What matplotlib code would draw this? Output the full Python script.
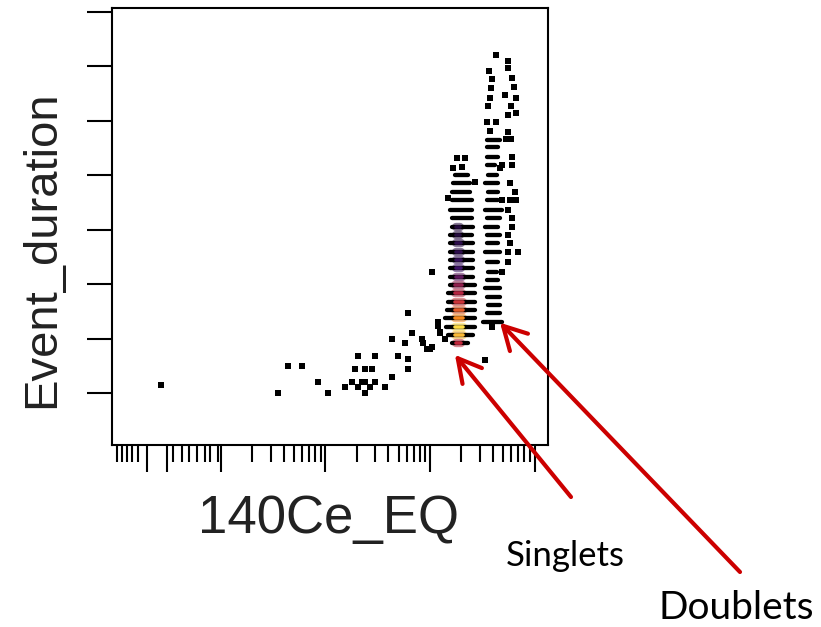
import matplotlib
matplotlib.use("Agg")
import matplotlib.pyplot as plt
from matplotlib.colors import LinearSegmentedColormap
import numpy as np

# scattered single events: 140Ce_EQ intensity, event duration
sparse_x = [-1.1, 35, 44, 60, 85, 106, 154, 179, 205, 224, 239, 267, 298, 239,
            371, 433, 205, 298, 192, 239, 279, 494, 616, 616, 433, 577, 673,
            616, 838, 857, 936, 1000, 1248, 1194, 1393, 1046, 1194, 1248, 1046,
            3360]
sparse_y = [11.5, 10.0, 15.0, 15.0, 12.0, 10.0, 11.1, 12.0, 11.1, 12.0, 12.0,
            11.1, 12.0, 10.0, 11.1, 12.9, 16.8, 16.8, 14.4, 14.4, 14.4, 16.8,
            16.2, 14.4, 19.9, 19.2, 21.0, 24.7, 19.9, 19.2, 18.1, 18.1, 21.0,
            22.3, 19.9, 32.2, 23.0, 21.2, 18.5, 16.1]

# loose events above / beside the singlet population
singlet_dots_x = [1811, 2162, 1660, 2024, 2695, 1486]
singlet_dots_y = [53.2, 53.2, 51.3, 51.5, 48.8, 45.8]

# singlet population: one band per event-duration step (left/right intensity)
singlet_y = [50.1, 48.6, 46.9, 45.5, 43.6, 42.2, 40.5, 39.0, 37.6, 35.9, 34.4,
             33.0, 31.3, 29.8, 28.4, 26.7, 25.2, 23.8, 22.1, 20.7, 19.2]
singlet_lo = [1734, 1660, 1624, 1624, 1554, 1624, 1624, 1554, 1554, 1554, 1554,
              1554, 1554, 1554, 1486, 1486, 1456, 1393, 1423, 1486, 1624]
singlet_hi = [2312, 2415, 2415, 2524, 2524, 2524, 2579, 2524, 2579, 2579, 2579,
              2579, 2579, 2695, 2695, 2695, 2695, 2695, 2695, 2579, 2312]

# event density in the core of the singlet bands (0 = sparse, 1 = densest)
core_y = [40.5, 39.0, 37.6, 35.9, 34.4, 33.0, 31.3, 29.8, 28.4, 26.7, 25.2,
          23.8, 22.1, 20.7, 19.2]
core_lo = [1790, 1790, 1780, 1780, 1780, 1770, 1760, 1750, 1750, 1740, 1740,
           1730, 1730, 1740, 1770]
core_hi = [1950, 1950, 1980, 1980, 1980, 2000, 2020, 2040, 2040, 2060, 2070,
           2080, 2080, 2070, 2000]
core_density = [0.18, 0.18, 0.22, 0.22, 0.25, 0.3, 0.36, 0.45, 0.52, 0.58,
                0.68, 0.8, 0.97, 0.9, 0.55]

# doublet population bands
doublet_y = [56.5, 55.2, 53.4, 51.9, 50.1, 48.6, 46.9, 45.5, 43.6, 42.2, 40.5,
             39.0, 37.6, 35.9, 34.1, 32.2, 30.8, 29.3, 27.6, 26.2, 24.7, 23.0]
doublet_lo = [3511, 3511, 3511, 3511, 3589, 3360, 3589, 3511, 3360, 3511, 3360,
              3511, 3511, 3360, 3511, 3589, 3511, 3360, 3511, 3589, 3511, 3216]
doublet_hi = [4677, 4475, 4475, 4190, 4378, 4475, 4475, 4475, 4889, 4677, 4475,
              4677, 4475, 4677, 4475, 4378, 4475, 4677, 4677, 4677, 4677, 4889]

# loose events around the doublet population
doublet_dots_x = [4285, 5580, 5580, 3670, 3920, 6090, 6362, 3835, 5224, 3751,
                  6646, 3589, 5958, 6646, 5580, 3511, 4285, 3751, 5580, 5338,
                  5958, 6090, 4889, 6090, 4677, 5830, 6503, 4889, 5830, 6646,
                  5580, 6090, 6090, 5580, 5830, 5580, 6943, 5580, 4889, 3920]
doublet_dots_y = [72.1, 71.0, 69.7, 69.2, 67.7, 67.9, 66.2, 66.0, 64.7, 64.2,
                  64.2, 62.7, 62.7, 61.5, 61.1, 59.8, 59.8, 58.1, 58.0, 56.7,
                  56.7, 53.4, 51.9, 51.9, 51.3, 48.6, 46.9, 45.5, 45.5, 45.5,
                  43.6, 42.2, 40.5, 39.0, 37.6, 35.9, 35.9, 34.1, 32.2, 22.1]

# axis ticks (unlabelled)
x_major = [-3.7, 0, 10, 100, 1000, 10000]
x_minor = [-9.3, -8.3, -7.4, -6.5, -5.4, 1.1, 2.8, 4.1, 5.6, 7.0, 8.0, 9.4,
           20, 30, 40, 50, 60, 70, 80, 90,
           200, 300, 400, 500, 600, 700, 800, 900,
           2000, 3000, 4000, 5000, 6000, 7000, 8000, 9000]
y_ticks = [10, 20, 30, 40, 50, 60, 70, 80]

heat = LinearSegmentedColormap.from_list(
    "heat", [(0.0, "#000000"), (0.3, "#3d1268"), (0.55, "#c4283c"),
             (0.78, "#f5801a"), (1.0, "#ffe94c")])

fig = plt.figure(figsize=(8.21, 6.27), dpi=100)
ax = fig.add_axes([0.1364, 0.2903, 0.5311, 0.697])

ax.set_xscale("symlog", linthresh=10, linscale=0.465)
ax.set_xlim(-10.19, 13460)
ax.set_ylim(0.45, 80.7)

dot = dict(s=13, marker="s", c="black", linewidths=0)
ax.scatter(sparse_x, sparse_y, **dot)
ax.scatter(singlet_dots_x, singlet_dots_y, **dot)
ax.scatter(doublet_dots_x, doublet_dots_y, **dot)

# soft glow of the dense core between the bands
glow = ax.hlines(core_y, core_lo, core_hi,
                 colors=heat(np.array(core_density)), lw=6, alpha=0.55)
glow.set_capstyle("round")

bands = ax.hlines(singlet_y, singlet_lo, singlet_hi, colors="black", lw=3.1)
bands.set_capstyle("round")
bands = ax.hlines(doublet_y, doublet_lo, doublet_hi, colors="black", lw=3.1)
bands.set_capstyle("round")

core = ax.hlines(core_y, core_lo, core_hi,
                 colors=heat(np.array(core_density)), lw=2.6)
core.set_capstyle("round")

for side in ax.spines.values():
    side.set_linewidth(1.5)
ax.set_xticks(x_major)
ax.set_xticks(x_minor, minor=True)
ax.set_yticks(y_ticks)
ax.yaxis.set_minor_locator(matplotlib.ticker.NullLocator())
ax.tick_params(axis="x", which="major", length=19.5, width=1.5,
               labelbottom=False)
ax.tick_params(axis="x", which="minor", length=12, width=1.5)
ax.tick_params(axis="y", length=18, width=1.5, labelleft=False)

fig.text(42 / 821, 1 - 249 / 627, "Event_duration", rotation=90,
         ha="center", va="center", fontsize=34, family="Liberation Sans",
         color="#222222")
fig.text(328 / 821, 94 / 627, "140Ce_EQ", ha="center", va="baseline",
         fontsize=38, family="Liberation Sans", color="#222222")

red = "#cc0000"
arrow = dict(arrowstyle="->,head_length=0.55,head_width=0.3", color=red,
             lw=3, mutation_scale=30, shrinkA=0, shrinkB=0)
ax.annotate("", xy=(1734, 17.0), xycoords="data",
            xytext=(571, 130), textcoords="figure pixels",
            arrowprops=arrow, annotation_clip=False)
ax.annotate("", xy=(4677, 22.9), xycoords="data",
            xytext=(740, 55), textcoords="figure pixels",
            arrowprops=arrow, annotation_clip=False)
fig.text(565 / 821, 61 / 627, "Singlets", ha="center", va="baseline",
         fontsize=25, family="Lato", color="black")
fig.text(736 / 821, 8 / 627, "Doublets", ha="center", va="baseline",
         fontsize=28, family="Lato", color="black")

fig.savefig("out.png", dpi=100)
